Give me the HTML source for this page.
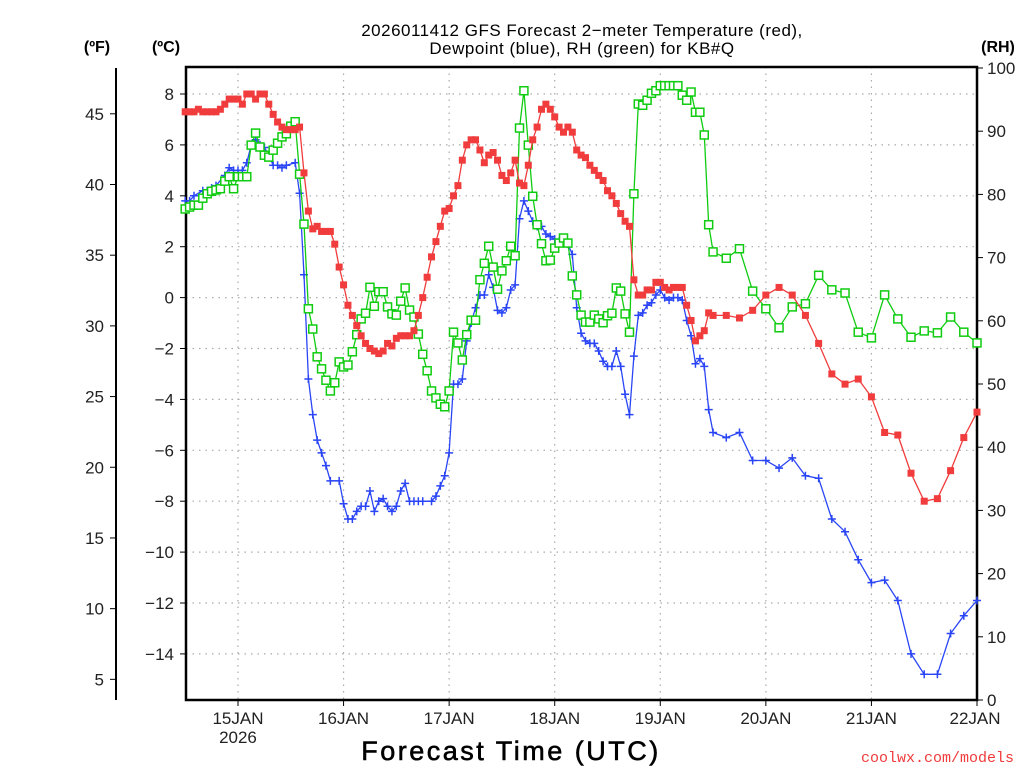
<!DOCTYPE html>
<html><head><meta charset="utf-8"><style>
html,body{margin:0;padding:0;background:#fff;width:1024px;height:768px;overflow:hidden}
svg{display:block;font-family:"Liberation Sans",sans-serif}
</style></head><body>
<svg id="chart" width="1024" height="768" viewBox="0 0 1024 768" xmlns="http://www.w3.org/2000/svg">
<text x="582" y="36" text-anchor="middle" font-size="17" fill="#000" letter-spacing="0.5">2026011412 GFS Forecast 2−meter Temperature (red),</text>
<text x="582" y="54" text-anchor="middle" font-size="17" fill="#000" letter-spacing="0.5">Dewpoint (blue), RH (green) for KB#Q</text>
<text x="97" y="52" text-anchor="middle" font-size="16" font-weight="bold">(ºF)</text>
<text x="166" y="52" text-anchor="middle" font-size="16" font-weight="bold">(ºC)</text>
<text x="998" y="52" text-anchor="middle" font-size="16" font-weight="bold">(RH)</text>
<text x="511" y="760" text-anchor="middle" font-size="27" fill="#000" stroke="#000" stroke-width="0.6" letter-spacing="2.5">Forecast Time (UTC)</text>
<text x="1014" y="762" text-anchor="end" font-size="15" fill="#f03c3c" font-family="Liberation Mono, monospace">coolwx.com/models</text>
<g id="grid"></g><g id="axes"></g><g id="series"></g>
</svg>
<script>
const tempHours=[0,1,2,3,4,5,6,7,8,9,10,11,12,13,14,15,16,17,18,19,20,21,22,23,24,25,26,27,28,29,30,31,32,33,34,35,36,37,38,39,40,41,42,43,44,45,46,47,48,49,50,51,52,53,54,55,56,57,58,59,60,61,62,63,64,65,66,67,68,69,70,71,72,73,74,75,76,77,78,79,80,81,82,83,84,85,86,87,88,89,90,91,92,93,94,95,96,97,98,99,100,101,102,103,104,105,106,107,108,109,110,111,112,113,114,115,116,117,118,119,120,123,126,129,132,135,138,141,144,147,150,153,156,159,162,165,168,171,174,177,180];
const tempC=[7.3,7.3,7.3,7.4,7.3,7.3,7.3,7.3,7.4,7.6,7.8,7.8,7.8,7.6,8.0,8.0,7.8,8.0,8.0,7.6,7.2,6.9,6.7,6.6,6.6,6.6,6.7,4.9,3.4,2.7,2.8,2.6,2.6,2.6,2.1,1.2,0.5,-0.3,-0.7,-1.1,-1.5,-1.8,-2.0,-2.1,-2.2,-2.1,-1.8,-1.9,-1.6,-1.5,-1.5,-1.5,-1.3,-0.7,0.0,0.8,1.6,2.2,2.8,3.4,3.5,4.0,4.4,5.4,6.0,6.2,6.2,5.8,5.3,5.6,5.7,5.4,4.8,4.6,4.9,5.4,4.5,4.4,5.2,6.2,6.7,7.4,7.6,7.4,7.1,6.7,6.5,6.7,6.5,5.8,5.6,5.5,5.2,5.0,4.8,4.6,4.2,4.0,3.7,3.3,3.0,2.8,0.7,0.1,0.1,0.3,0.3,0.6,0.6,0.4,0.3,0.4,0.4,0.4,-0.3,-0.9,-1.7,-1.5,-1.3,-0.6,-0.7,-0.7,-0.8,-0.5,0.1,0.4,0.1,-0.7,-1.8,-3.0,-3.4,-3.2,-3.9,-5.3,-5.4,-6.9,-8.0,-7.9,-6.8,-5.5,-4.5];
const dewHours=[0,1,2,4,5,6,7,9,10,11,12,13,14,15,16,17,18,19,20,21,22,23,25,26,27,28,29,30,31,32,33,35,36,37,38,39,40,41,42,43,44,45,46,47,48,49,50,51,52,53,54,56,57,58,59,60,61,62,63,64,65,66,67,68,69,70,71,72,73,74,75,76,77,78,79,80,81,82,83,84,85,86,87,88,89,90,91,92,93,94,95,96,97,98,99,100,101,102,103,104,105,106,107,108,109,110,111,112,113,114,115,116,117,118,119,120,123,126,129,132,135,138,141,144,147,150,153,156,159,162,165,168,171,174,177,180];
const dewC=[3.8,3.8,4.0,4.2,4.2,4.3,4.4,4.8,5.1,5.0,5.0,5.0,5.3,6.0,6.2,6.0,5.9,5.6,5.2,5.2,5.1,5.2,5.3,4.1,0.9,-3.2,-4.6,-5.6,-6.1,-6.6,-7.2,-7.2,-8.1,-8.7,-8.7,-8.4,-8.2,-8.2,-7.6,-8.4,-8.0,-7.9,-8.2,-8.4,-8.2,-7.6,-7.3,-8.0,-8.0,-8.0,-8.0,-8.0,-7.8,-7.4,-7.0,-6.1,-3.4,-3.4,-3.2,-1.7,-1.0,-0.4,0.1,0.1,0.9,0.4,-0.5,-0.6,-0.4,0.3,0.5,3.1,3.8,3.4,3.0,2.8,2.8,2.5,2.4,2.3,2.2,2.3,2.1,1.7,-0.4,-1.4,-1.7,-1.8,-1.8,-2.1,-2.5,-2.7,-2.7,-2.1,-2.7,-3.8,-4.6,-2.3,-0.7,-0.6,-0.3,-0.2,0.1,0.3,0.0,-0.1,0.0,0.0,-0.1,-0.9,-1.5,-2.6,-2.4,-2.7,-4.4,-5.3,-5.5,-5.3,-6.4,-6.4,-6.7,-6.3,-7.0,-7.1,-8.7,-9.2,-10.3,-11.2,-11.1,-11.9,-14.0,-14.8,-14.8,-13.2,-12.5,-11.9];
const rhHours=tempHours.slice();
const rhPct=[77.7,78.0,78.3,78.3,79.4,80.1,80.5,80.7,80.9,82.1,82.8,80.9,82.8,82.8,82.8,87.8,89.7,87.5,86.2,85.9,87.0,88.1,89.1,89.6,90.8,91.5,83.2,75.3,61.9,58.7,54.3,52.4,50.6,48.9,50.2,53.5,52.7,53.0,55.1,57.8,60.3,61.2,65.3,62.3,64.6,64.6,62.2,61.1,60.9,63.1,65.2,61.7,60.6,57.9,54.7,52.1,48.9,47.8,46.8,46.4,48.9,58.2,56.5,53.8,57.8,60.1,60.1,66.5,69.1,71.8,68.5,65.0,67.9,69.5,71.8,70.3,90.5,96.4,87.8,79.7,75.2,72.2,69.5,69.6,71.5,72.3,73.1,72.3,67.1,64.1,60.9,59.8,59.8,60.9,60.3,59.7,60.8,61.2,65.2,64.7,61.1,58.2,80.1,94.3,94.1,94.9,96.0,96.4,97.2,97.2,97.2,97.2,97.2,95.7,94.9,96.2,93.0,93.0,89.4,75.2,70.9,69.9,71.4,64.7,61.9,58.9,62.2,62.7,67.2,64.9,64.4,58.2,57.3,64.1,60.3,57.4,58.4,58.1,60.6,58.2,56.5];
const dayLabels=["15JAN","16JAN","17JAN","18JAN","19JAN","20JAN","21JAN","22JAN"];
const dayHours=[12,36,60,84,108,132,156,180];
const cTicks=[8,6,4,2,0,-2,-4,-6,-8,-10,-12,-14];
const fTicks=[45,40,35,30,25,20,15,10,5];
const rhTicks=[0,10,20,30,40,50,60,70,80,90,100];

const L=186,R=977,T=67,B=700;
const xS=h=>185.2+h*((R-185.2)/180);
const yC=c=>297.6-c*25.45;
const yF=f=>yC((f-32)/1.8);
const yRH=r=>B-r*(B-68)/100;
const NS="http://www.w3.org/2000/svg";
function mk(tag,attrs,parent){const e=document.createElementNS(NS,tag);for(const k in attrs)e.setAttribute(k,attrs[k]);parent.appendChild(e);return e;}
const grid=document.getElementById('grid'),axes=document.getElementById('axes'),ser=document.getElementById('series');
cTicks.forEach(c=>{const y=yC(c);
 const g=mk('line',{x1:L,x2:R,y1:y,y2:y,stroke:'#aaa','stroke-width':1.2,'stroke-dasharray':'1.5 5'},grid);
 
 const t=mk('line',{x1:L-6,x2:L,y1:y,y2:y,stroke:'#000','stroke-width':1},axes);
 
 const lb=mk('text',{x:L-12,y:y+6,'text-anchor':'end','font-size':17,fill:'#222'},axes);
 
 lb.textContent=(c<0?'−':'')+Math.abs(c);});
dayHours.forEach((h,i)=>{const x=xS(h);
 if(i<dayHours.length-1){const g=mk('line',{x1:x,x2:x,y1:T,y2:B,stroke:'#aaa','stroke-width':1.2,'stroke-dasharray':'1.5 5'},grid);
 }
 const t=mk('line',{x1:x,x2:x,y1:B,y2:B+6,stroke:'#000','stroke-width':1},axes);
 
 const lb=mk('text',{x:i==dayHours.length-1?x-2:x,y:B+24,'text-anchor':'middle','font-size':17,fill:'#222'},axes);
 
 lb.textContent=dayLabels[i];});
const yr=mk('text',{x:xS(dayHours[0]),y:B+43,'text-anchor':'middle','font-size':17,fill:'#222'},axes);

yr.textContent='2026';
const fl=mk('line',{x1:116,x2:116,y1:68,y2:B,stroke:'#000','stroke-width':2},axes);

fTicks.forEach(f=>{const y=yF(f);
 const t=mk('line',{x1:110,x2:116,y1:y,y2:y,stroke:'#000','stroke-width':1},axes);
 
 const lb=mk('text',{x:104,y:y+6,'text-anchor':'end','font-size':17,fill:'#222'},axes);
 
 lb.textContent=f;});
rhTicks.forEach(r=>{const y=yRH(r);
 const t=mk('line',{x1:R,x2:R+6,y1:y,y2:y,stroke:'#000','stroke-width':1},axes);
 
 const lb=mk('text',{x:R+10,y:y+6,'text-anchor':'start','font-size':17,fill:'#222'},axes);
 
 lb.textContent=r;});
const fr=mk('rect',{x:L,y:T,width:R-L,height:B-T,fill:'none',stroke:'#000','stroke-width':2.5},axes);


function drawSeries(hours,vals,yf,color,name,marker){
 const g=mk('g',{},ser);
 
 const pts=hours.map((h,i)=>xS(h).toFixed(1)+','+yf(vals[i]).toFixed(1)).join(' ');
 const pl=mk('polyline',{points:pts,fill:'none',stroke:color,'stroke-width':1.3},g);
 
 hours.forEach((h,i)=>{const x=xS(h),y=yf(vals[i]);let m;
  if(marker==='fill'){m=mk('rect',{x:x-3.5,y:y-3.5,width:7,height:7,fill:color},g);}
  else if(marker==='open'){m=mk('rect',{x:x-4,y:y-4,width:8,height:8,fill:'#fff',stroke:color,'stroke-width':1.5},g);}
  else{m=mk('path',{d:`M${x-4},${y}H${x+4}M${x},${y-4}V${y+4}`,stroke:color,'stroke-width':1.5},g);}
  
  });
}
drawSeries(dewHours,dewC,yC,'#2a45f5','dewpoint','plus');
drawSeries(rhHours,rhPct,yRH,'#10cc10','rh','open');
drawSeries(tempHours,tempC,yC,'#f03c3c','temperature','fill');
</script>
</body></html>
